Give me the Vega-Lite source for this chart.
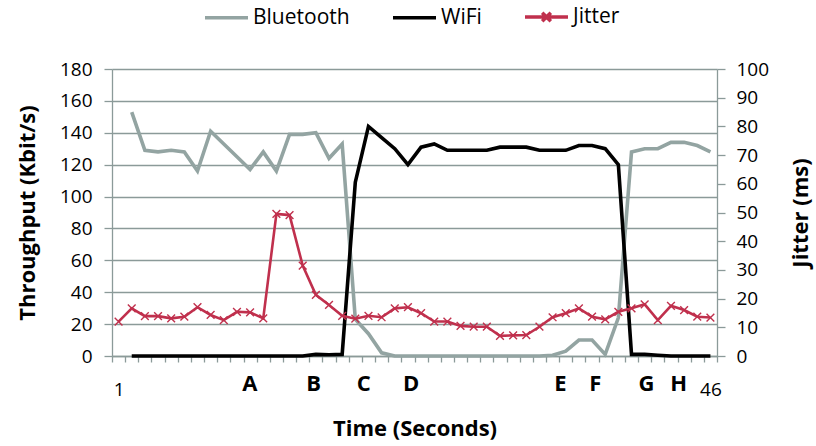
{
  "$schema": "https://vega.github.io/schema/vega-lite/v6.json",
  "width": 605,
  "height": 287,
  "autosize": {"type": "none"},
  "padding": {"left": 112, "top": 69, "right": 99, "bottom": 90},
  "background": "white",
  "config": {
    "font": "Open Sans",
    "view": {"stroke": null},
    "axis": {"labelFont": "Open Sans", "titleFont": "Open Sans", "labelColor": "black", "titleColor": "black"}
  },
  "datasets": {
    "tp": [
      {"s": "Bluetooth", "t": 2, "v": 153}, {"s": "Bluetooth", "t": 3, "v": 129}, {"s": "Bluetooth", "t": 4, "v": 128}, {"s": "Bluetooth", "t": 5, "v": 129},
      {"s": "Bluetooth", "t": 6, "v": 128}, {"s": "Bluetooth", "t": 7, "v": 116}, {"s": "Bluetooth", "t": 8, "v": 141}, {"s": "Bluetooth", "t": 9, "v": 133},
      {"s": "Bluetooth", "t": 10, "v": 125}, {"s": "Bluetooth", "t": 11, "v": 117}, {"s": "Bluetooth", "t": 12, "v": 128}, {"s": "Bluetooth", "t": 13, "v": 116},
      {"s": "Bluetooth", "t": 14, "v": 139}, {"s": "Bluetooth", "t": 15, "v": 139}, {"s": "Bluetooth", "t": 16, "v": 140}, {"s": "Bluetooth", "t": 17, "v": 124},
      {"s": "Bluetooth", "t": 18, "v": 133}, {"s": "Bluetooth", "t": 19, "v": 23}, {"s": "Bluetooth", "t": 20, "v": 14}, {"s": "Bluetooth", "t": 21, "v": 2},
      {"s": "Bluetooth", "t": 22, "v": 0}, {"s": "Bluetooth", "t": 23, "v": 0}, {"s": "Bluetooth", "t": 24, "v": 0}, {"s": "Bluetooth", "t": 25, "v": 0},
      {"s": "Bluetooth", "t": 26, "v": 0}, {"s": "Bluetooth", "t": 27, "v": 0}, {"s": "Bluetooth", "t": 28, "v": 0}, {"s": "Bluetooth", "t": 29, "v": 0},
      {"s": "Bluetooth", "t": 30, "v": 0}, {"s": "Bluetooth", "t": 31, "v": 0}, {"s": "Bluetooth", "t": 32, "v": 0}, {"s": "Bluetooth", "t": 33, "v": 0},
      {"s": "Bluetooth", "t": 34, "v": 0.5}, {"s": "Bluetooth", "t": 35, "v": 3}, {"s": "Bluetooth", "t": 36, "v": 10}, {"s": "Bluetooth", "t": 37, "v": 10},
      {"s": "Bluetooth", "t": 38, "v": 1}, {"s": "Bluetooth", "t": 39, "v": 24}, {"s": "Bluetooth", "t": 40, "v": 128}, {"s": "Bluetooth", "t": 41, "v": 130},
      {"s": "Bluetooth", "t": 42, "v": 130}, {"s": "Bluetooth", "t": 43, "v": 134}, {"s": "Bluetooth", "t": 44, "v": 134}, {"s": "Bluetooth", "t": 45, "v": 132},
      {"s": "Bluetooth", "t": 46, "v": 128},
      {"s": "WiFi", "t": 2, "v": 0}, {"s": "WiFi", "t": 3, "v": 0}, {"s": "WiFi", "t": 4, "v": 0}, {"s": "WiFi", "t": 5, "v": 0},
      {"s": "WiFi", "t": 6, "v": 0}, {"s": "WiFi", "t": 7, "v": 0}, {"s": "WiFi", "t": 8, "v": 0}, {"s": "WiFi", "t": 9, "v": 0},
      {"s": "WiFi", "t": 10, "v": 0}, {"s": "WiFi", "t": 11, "v": 0}, {"s": "WiFi", "t": 12, "v": 0}, {"s": "WiFi", "t": 13, "v": 0},
      {"s": "WiFi", "t": 14, "v": 0}, {"s": "WiFi", "t": 15, "v": 0}, {"s": "WiFi", "t": 16, "v": 1}, {"s": "WiFi", "t": 17, "v": 0.8},
      {"s": "WiFi", "t": 18, "v": 1}, {"s": "WiFi", "t": 19, "v": 109}, {"s": "WiFi", "t": 20, "v": 144}, {"s": "WiFi", "t": 21, "v": 137},
      {"s": "WiFi", "t": 22, "v": 130}, {"s": "WiFi", "t": 23, "v": 120}, {"s": "WiFi", "t": 24, "v": 131}, {"s": "WiFi", "t": 25, "v": 133},
      {"s": "WiFi", "t": 26, "v": 129}, {"s": "WiFi", "t": 27, "v": 129}, {"s": "WiFi", "t": 28, "v": 129}, {"s": "WiFi", "t": 29, "v": 129},
      {"s": "WiFi", "t": 30, "v": 131}, {"s": "WiFi", "t": 31, "v": 131}, {"s": "WiFi", "t": 32, "v": 131}, {"s": "WiFi", "t": 33, "v": 129},
      {"s": "WiFi", "t": 34, "v": 129}, {"s": "WiFi", "t": 35, "v": 129}, {"s": "WiFi", "t": 36, "v": 132}, {"s": "WiFi", "t": 37, "v": 132},
      {"s": "WiFi", "t": 38, "v": 130}, {"s": "WiFi", "t": 39, "v": 120}, {"s": "WiFi", "t": 40, "v": 1}, {"s": "WiFi", "t": 41, "v": 1},
      {"s": "WiFi", "t": 42, "v": 0.5}, {"s": "WiFi", "t": 43, "v": 0}, {"s": "WiFi", "t": 44, "v": 0}, {"s": "WiFi", "t": 45, "v": 0},
      {"s": "WiFi", "t": 46, "v": 0}
    ],
    "jit": [
      {"s": "Jitter", "t": 1, "v": 12}, {"s": "Jitter", "t": 2, "v": 16.6}, {"s": "Jitter", "t": 3, "v": 13.9}, {"s": "Jitter", "t": 4, "v": 13.9},
      {"s": "Jitter", "t": 5, "v": 13.1}, {"s": "Jitter", "t": 6, "v": 13.7}, {"s": "Jitter", "t": 7, "v": 17}, {"s": "Jitter", "t": 8, "v": 14.3},
      {"s": "Jitter", "t": 9, "v": 12.5}, {"s": "Jitter", "t": 10, "v": 15.4}, {"s": "Jitter", "t": 11, "v": 15.2}, {"s": "Jitter", "t": 12, "v": 13.1},
      {"s": "Jitter", "t": 13, "v": 49.5}, {"s": "Jitter", "t": 14, "v": 49.1}, {"s": "Jitter", "t": 15, "v": 31.5}, {"s": "Jitter", "t": 16, "v": 21.3},
      {"s": "Jitter", "t": 17, "v": 17.8}, {"s": "Jitter", "t": 18, "v": 14}, {"s": "Jitter", "t": 19, "v": 13}, {"s": "Jitter", "t": 20, "v": 14},
      {"s": "Jitter", "t": 21, "v": 13.5}, {"s": "Jitter", "t": 22, "v": 16.6}, {"s": "Jitter", "t": 23, "v": 17}, {"s": "Jitter", "t": 24, "v": 14.9},
      {"s": "Jitter", "t": 25, "v": 12}, {"s": "Jitter", "t": 26, "v": 12}, {"s": "Jitter", "t": 27, "v": 10.5}, {"s": "Jitter", "t": 28, "v": 10.2},
      {"s": "Jitter", "t": 29, "v": 10.2}, {"s": "Jitter", "t": 30, "v": 7}, {"s": "Jitter", "t": 31, "v": 7.2}, {"s": "Jitter", "t": 32, "v": 7.3},
      {"s": "Jitter", "t": 33, "v": 10.2}, {"s": "Jitter", "t": 34, "v": 13.5}, {"s": "Jitter", "t": 35, "v": 14.9}, {"s": "Jitter", "t": 36, "v": 16.6},
      {"s": "Jitter", "t": 37, "v": 13.7}, {"s": "Jitter", "t": 38, "v": 12.8}, {"s": "Jitter", "t": 39, "v": 15.4}, {"s": "Jitter", "t": 40, "v": 16.6},
      {"s": "Jitter", "t": 41, "v": 18}, {"s": "Jitter", "t": 42, "v": 12.5}, {"s": "Jitter", "t": 43, "v": 17.5}, {"s": "Jitter", "t": 44, "v": 16},
      {"s": "Jitter", "t": 45, "v": 13.7}, {"s": "Jitter", "t": 46, "v": 13.4}
    ]
  },
  "layer": [
    {
      "data": {"name": "tp"},
      "mark": {"type": "line", "strokeWidth": 3.6},
      "encoding": {
        "x": {
          "field": "t", "type": "quantitative",
          "scale": {"domain": [0.5, 46.5], "nice": false, "zero": false},
          "axis": {
            "orient": "bottom",
            "values": [0.5, 1, 1.5, 2.5, 3.5, 4.5, 5.5, 6.5, 7.5, 8.5, 9.5, 10.5, 11.5, 12.5, 13.5, 14.5, 15.5, 16.5, 17.5, 18.5, 19.5, 20.5, 21.5, 22.5, 23.5, 24.5, 25.5, 26.5, 27.5, 28.5, 29.5, 30.5, 31.5, 32.5, 33.5, 34.5, 35.5, 36.5, 37.5, 38.5, 39.5, 40.5, 41.5, 42.5, 43.5, 44.5, 45.5, 46, 46.5],
            "labelExpr": "datum.value == 1 ? '1' : (datum.value == 46 ? '46' : '')",
            "tickOpacity": {"condition": {"test": "datum.value == 1 || datum.value == 46", "value": 0}, "value": 1},
            "tickSize": 6, "tickColor": "#8b9a99", "tickWidth": 1.3,
            "domainColor": "#8b9a99", "domainWidth": 1.3,
            "labelFontSize": 19, "labelPadding": 18,
            "labelOverlap": false, "labelFlush": false, "labelBound": false,
            "grid": false, "title": null
          }
        },
        "y": {
          "field": "v", "type": "quantitative",
          "scale": {"domain": [0, 180], "nice": false},
          "axis": {
            "values": [0, 20, 40, 60, 80, 100, 120, 140, 160, 180],
            "grid": true, "gridColor": "#8b9a99", "gridWidth": 1.3,
            "domainColor": "#8b9a99", "domainWidth": 1.3,
            "tickColor": "#8b9a99", "tickWidth": 1.3, "tickSize": 8,
            "labelFontSize": 19, "labelPadding": 12,
            "title": "Throughput (Kbit/s)", "titleFontSize": 22, "titleFontWeight": "bold",
            "titleX": -85, "titleY": 143.5, "titleAngle": -90, "titleBaseline": "middle", "titleAlign": "center"
          }
        },
        "color": {
          "field": "s", "type": "nominal",
          "scale": {"domain": ["Bluetooth", "WiFi", "Jitter"], "range": ["#93a4a2", "#000000", "#c0304d"]},
          "legend": {
            "orient": "none", "legendX": 91, "legendY": -75.5, "direction": "horizontal", "title": null,
            "symbolType": "stroke", "symbolSize": 1849, "symbolStrokeWidth": 3.6,
            "labelFontSize": 21, "labelFont": "Open Sans", "labelColor": "black", "labelOffset": 3,
            "columnPadding": 35, "labelLimit": 300,
            "encode": {
              "symbols": {
                "update": {
                  "shape": {"signal": "datum.value == 'Jitter' ? 'M-1,0L1,0M-0.2,-0.2L0.2,0.2M-0.2,0.2L0.2,-0.2' : 'stroke'"}
                }
              }
            }
          }
        }
      }
    },
    {
      "data": {"name": "jit"},
      "mark": {"type": "line", "strokeWidth": 2.6, "point": {"shape": "M-1,-1L1,1M-1,1L1,-1", "filled": false, "size": 60, "strokeWidth": 1.4}},
      "encoding": {
        "x": {
          "field": "t", "type": "quantitative",
          "axis": {
            "orient": "bottom",
            "values": [10.95, 15.8, 19.6, 23.2, 34.55, 37.2, 41.1, 43.55],
            "labelExpr": "datum.value < 12 ? 'A' : datum.value < 17 ? 'B' : datum.value < 21 ? 'C' : datum.value < 30 ? 'D' : datum.value < 36 ? 'E' : datum.value < 40 ? 'F' : datum.value < 42 ? 'G' : 'H'",
            "ticks": false, "tickSize": 0, "domain": false, "grid": false,
            "labelFontSize": 22, "labelFontWeight": "bold", "labelPadding": 17,
            "labelOverlap": false, "labelFlush": false, "labelBound": false,
            "title": "Time (Seconds)", "titleFontSize": 22, "titleFontWeight": "bold",
            "titleY": 72, "titleBaseline": "middle"
          }
        },
        "y": {
          "field": "v", "type": "quantitative",
          "scale": {"domain": [0, 100], "nice": false},
          "axis": {
            "orient": "right",
            "values": [0, 10, 20, 30, 40, 50, 60, 70, 80, 90, 100],
            "grid": false,
            "domainColor": "#8b9a99", "domainWidth": 1.3,
            "tickColor": "#8b9a99", "tickWidth": 1.3, "tickSize": 8,
            "labelFontSize": 19, "labelPadding": 11,
            "title": "Jitter (ms)", "titleFontSize": 22, "titleFontWeight": "bold",
            "titleX": 83, "titleY": 143.5, "titleAngle": -90, "titleBaseline": "middle", "titleAlign": "center"
          }
        },
        "color": {"field": "s", "type": "nominal"}
      }
    }
  ],
  "resolve": {"scale": {"y": "independent"}, "axis": {"x": "independent"}}
}
